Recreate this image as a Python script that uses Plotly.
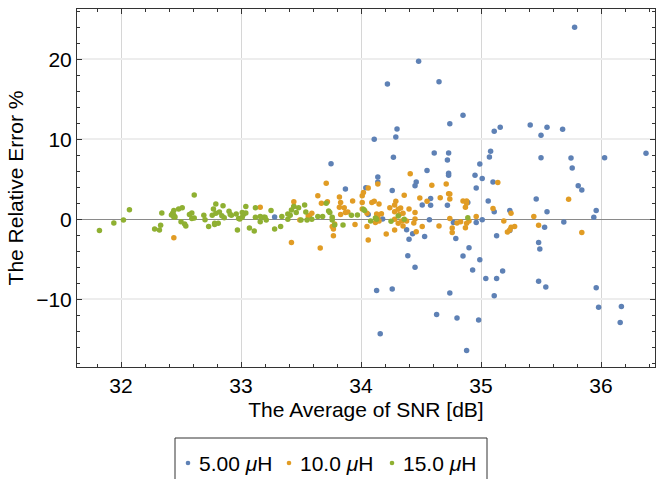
import plotly.graph_objects as go

# ---- data ----
blue_x = [35.78, 34.48, 34.22, 34.65, 34.85, 34.74, 34.30, 34.29, 34.11, 35.11, 35.16, 35.41, 35.50, 35.55, 35.68,
          34.27, 34.61, 34.73, 34.72, 35.08, 35.07, 34.99, 35.50, 35.75, 36.03, 36.375,
          33.75, 34.55, 34.73, 34.73, 34.14, 34.14, 34.46, 34.45, 34.95, 35.01, 35.10, 35.81, 35.76, 35.84, 34.96, 34.26, 33.87, 34.04,
          34.58, 34.51, 34.58, 34.72, 34.89, 35.06, 35.46, 35.11, 35.24, 35.55, 35.96, 35.94,
          33.28, 34.18, 34.06, 34.57, 35.01, 34.96, 34.77, 35.69, 35.53, 34.38, 34.43, 34.53, 34.79, 34.40, 35.13, 35.24,
          35.48, 35.49, 34.90, 34.85, 34.39, 34.99, 34.45, 34.93, 35.18, 35.04, 35.13, 35.48, 35.54, 35.96, 35.11, 34.74,
          34.13, 34.26, 35.98, 36.17, 36.16, 34.80, 34.98, 34.63, 34.88, 34.16]
blue_y = [24.0, 19.75, 16.9, 17.2, 13.0, 11.95, 11.3, 10.3, 10.0, 11.0, 11.5, 11.8, 10.5, 11.5, 11.25,
          7.75, 8.3, 8.3, 7.4, 8.5, 7.8, 6.9, 7.7, 7.65, 7.7, 8.25,
          6.95, 6.1, 5.75, 5.5, 5.3, 4.65, 4.65, 4.2, 5.5, 5.1, 4.65, 4.2, 6.4, 3.65, 3.9, 3.6, 3.8, 3.95,
          2.6, 1.8, 1.75, 1.75, 2.1, 2.3, 2.55, 0.95, 1.1, 0.95, 1.1, 0.25,
          0.3, 0.05, 0.6, -0.05, -0.05, -0.4, -0.4, -0.35, -1.0, -1.3, -1.8, -2.15, -2.4, -2.5, -2.05, -1.4,
          -2.9, -3.7, -3.55, -4.6, -4.55, -5.05, -6.0, -6.35, -6.45, -7.4, -7.4, -7.75, -8.45, -8.55, -9.55, -9.2,
          -8.9, -8.7, -11.0, -10.9, -12.9, -12.35, -12.6, -11.9, -16.4, -14.3]

orange_x = [32.44, 33.16, 33.44, 33.44, 33.49, 33.56, 33.59, 33.57, 33.64, 33.67, 33.71, 33.72, 33.76, 33.77, 33.77,
            33.78, 33.82, 33.83, 33.83, 33.86, 33.82, 33.87, 33.89, 33.93, 33.95, 34.01, 34.01, 34.02, 34.06, 34.05,
            34.01, 34.05, 34.06, 34.09, 34.11, 34.14, 34.15, 33.42, 33.66,
            34.41, 34.59, 34.71, 34.36, 34.73, 34.49, 34.55, 34.66, 34.74, 34.29, 34.28, 34.28, 34.24, 34.31, 34.33,
            34.40, 34.45, 34.35, 34.32, 34.85, 34.88, 34.87, 34.88, 34.74,
            34.13, 34.17, 34.14, 34.12, 34.15, 34.13,
            34.28, 34.34, 34.38, 34.45, 34.31, 34.44, 34.35, 34.51, 34.65, 34.46, 34.28, 34.21, 34.74, 34.76, 34.76,
            34.80, 34.83, 34.87, 34.88, 34.90, 34.96, 35.10, 35.14, 35.19, 35.25, 35.22, 35.25, 35.28, 35.24,
            35.73, 35.44, 35.48, 35.84]
orange_y = [-2.3, 1.5, 2.2, 1.6, -0.1, 0.4, 0.75, 0.45, 2.95, 2.0, 4.5, 2.2, -0.9, -1.2, -2.05,
            -0.6, 2.8, 0.6, 2.1, 1.45, 1.5, 0.85, 0.9, 2.3, -0.65, 2.95, 2.1, 3.35, 3.9, 0.75,
            1.3, -0.9, -2.6, 2.1, 2.25, 4.4, 1.9, -2.9, -3.6,
            5.7, 4.25, 4.4, 3.0, 3.2, 2.65, 2.25, 2.7, 2.55, 2.25, 1.8, 0.95, 1.45, 1.25, 1.4,
            1.3, 0.85, 0.75, 0.6, 2.3, 2.3, 1.5, 2.0, 3.15,
            0.65, 0.7, 0.3, -0.4, -0.2, 0.2,
            0.0, -0.2, -0.2, 0.05, -0.5, -0.45, -0.85, -0.9, -0.85, -1.55, -1.35, -1.85, 0.1, -1.1, -1.65,
            -0.45, -0.3, -1.05, -0.5, -0.2, 0.35, 1.35, 4.6, -0.2, 0.75, -1.6, -1.0, -0.9, -1.35,
            2.5, 0.35, -0.75, -1.65]

green_x = [31.82, 31.94, 32.02, 32.07, 32.28, 32.32, 32.33, 32.34,
           32.44, 32.43, 32.42, 32.44, 32.45, 32.44, 32.48, 32.51, 32.50, 32.53, 32.54, 32.61, 32.57, 32.59, 32.59, 32.61,
           32.69, 32.70, 32.73, 32.77, 32.79, 32.85, 32.90, 32.76, 32.79, 32.82, 32.84, 32.78, 32.81, 32.78, 32.86, 32.92,
           32.91, 32.96, 32.98, 33.01, 33.02, 33.04, 33.04, 33.01, 32.99, 32.97, 33.07, 33.11, 33.12, 33.12, 33.16, 33.16,
           33.19, 33.21, 33.20, 33.25, 33.28, 33.33, 33.34, 33.39, 33.39, 33.41, 33.42, 33.44, 33.46, 33.48, 33.50, 33.53,
           33.54, 33.55, 33.59, 33.64, 33.68, 33.71, 33.73, 33.74, 33.76, 33.76, 33.78, 33.85, 33.92, 33.97, 34.02, 34.03,
           34.08, 34.12, 34.13, 34.25, 34.31, 34.36, 34.89]
green_y = [-1.4, -0.45, -0.1, 1.2, -1.2, -1.35, -0.75, 0.8,
           1.1, 0.75, 0.55, 0.5, 0.3, 0.3, 1.3, 1.45, -0.3, -0.6, -0.85, 3.05, 0.6, 0.8, 0.1, 0.15,
           0.5, -0.05, -0.9, 1.3, 1.9, 1.7, 1.0, 0.5, 0.75, 0.9, 0.45, -0.5, -0.5, -0.65, 0.2, 0.5,
           0.6, 0.65, 0.1, 0.25, 0.6, 0.8, 1.6, 0.85, 0.05, -1.35, -1.1, -1.45, 1.45, 0.25, 0.35, -0.3,
           0.25, -0.1, 0.25, 1.1, -1.2, -0.9, 0.35, 0.0, 0.65, 0.5, 1.15, 1.6, 0.85, 1.45, -0.1, 1.8,
           0.9, -0.1, 0.0, 0.35, 0.35, 2.0, 1.05, 0.85, -0.1, 0.25, -0.7, -0.7, 0.5, 0.55, 1.25, 1.1,
           -0.2, 0.15, 0.0, -0.25, 0.4, 0.0, 0.2]

series_names = ["5.00 <i>μ</i>H", "10.0 <i>μ</i>H", "15.0 <i>μ</i>H"]
series_colors = ["#5E81B5", "#E19C24", "#8FB032"]

x_ticks = [32, 33, 34, 35, 36]
y_ticks = [-10, 0, 10, 20]

FONT = "Liberation Sans, Arial, sans-serif"
FRAME = "#333333"

W, H = 657, 479
ML, MR, MT, MB = 77, 2, 9, 112
PW, PH = W - ML - MR, H - MT - MB


def px_to_paper(px, py):
    return (px - ML) / PW, (H - MB - py) / PH


fig = go.Figure()
for xs, ys, name, col in zip([blue_x, orange_x, green_x], [blue_y, orange_y, green_y],
                             series_names, series_colors):
    fig.add_trace(go.Scatter(x=xs, y=ys, mode="markers", name=name, showlegend=False,
                             marker=dict(color=col, size=5.5, line=dict(width=0))))

# ---- legend drawn as a framed row below the plot ----
shapes = []
annotations = []
bx0, by0 = px_to_paper(175, 438)
bx1, by1 = px_to_paper(487, 492)
shapes.append(dict(type="rect", xref="paper", yref="paper", x0=bx0, x1=bx1, y0=by1, y1=by0,
                   line=dict(color=FRAME, width=1), fillcolor="white", layer="above"))
legend_dot_px = [188, 289, 392]
legend_y_px = 463
for dpx, name, col in zip(legend_dot_px, series_names, series_colors):
    cx0, cy0 = px_to_paper(dpx - 2.3, legend_y_px + 2.3)
    cx1, cy1 = px_to_paper(dpx + 2.3, legend_y_px - 2.3)
    shapes.append(dict(type="circle", xref="paper", yref="paper", x0=cx0, x1=cx1, y0=cy0, y1=cy1,
                       line=dict(width=0), fillcolor=col, layer="above"))
    tx, ty = px_to_paper(dpx + 9, legend_y_px)
    annotations.append(dict(xref="paper", yref="paper", x=tx, y=ty, text=name, showarrow=False,
                            xanchor="left", yanchor="middle", font=dict(size=21, family=FONT, color="black")))

fig.update_layout(
    width=W, height=H,
    margin=dict(l=ML, r=MR, t=MT, b=MB),
    paper_bgcolor="white", plot_bgcolor="white",
    font=dict(family=FONT, color="black"),
    showlegend=False,
    shapes=shapes, annotations=annotations,
)
fig.update_xaxes(
    range=[31.633, 36.45], tickvals=x_ticks, ticks="inside", ticklen=5, tickcolor=FRAME,
    showline=True, linecolor=FRAME, linewidth=1, mirror="allticks",
    showgrid=True, gridcolor="#d6d6d6", gridwidth=1.2, zeroline=False,
    tickfont=dict(size=21), title=dict(text="The Average of SNR [dB]", font=dict(size=21), standoff=6),
    minor=dict(dtick=0.2, tick0=32, ticks="inside", ticklen=3, tickcolor=FRAME, showgrid=False),
)
fig.update_yaxes(
    range=[-18.46, 26.29], tickvals=y_ticks, ticks="inside", ticklen=5, tickcolor=FRAME,
    showline=True, linecolor=FRAME, linewidth=1, mirror="allticks",
    showgrid=True, gridcolor="#ededed", gridwidth=1.5,
    zeroline=True, zerolinecolor="#8a8a8a", zerolinewidth=1.2,
    tickfont=dict(size=21), title=dict(text="The Relative Error %", font=dict(size=21), standoff=6),
    minor=dict(dtick=2, tick0=0, ticks="inside", ticklen=3, tickcolor=FRAME, showgrid=False),
)

fig.write_html("out.html")
